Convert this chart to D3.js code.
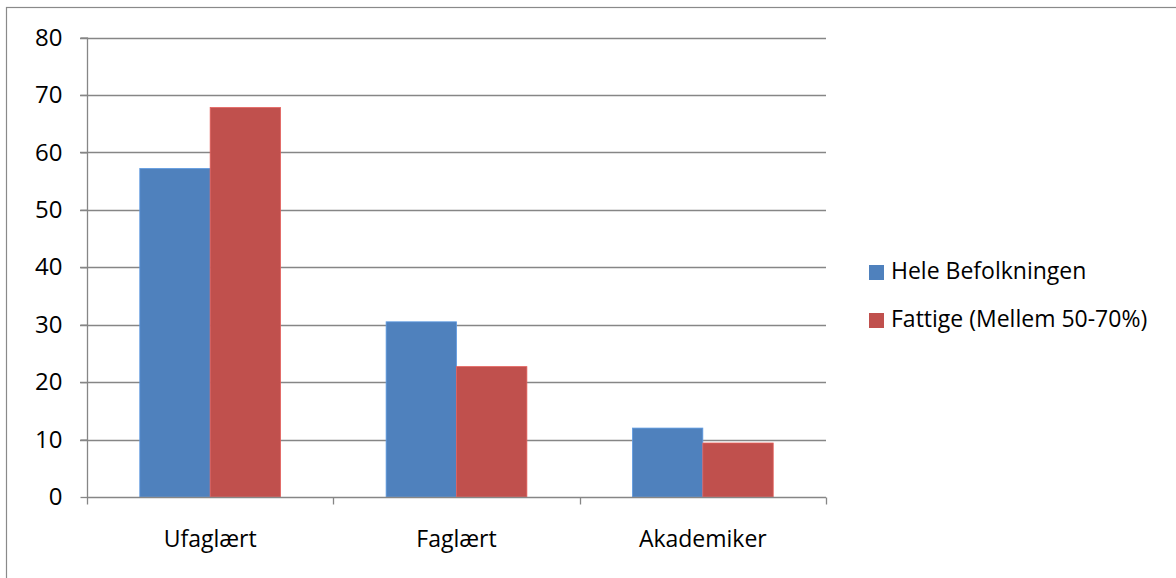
<!DOCTYPE html>
<html>
<head>
<meta charset="utf-8">
<script src="https://cdn.jsdelivr.net/npm/d3@7/dist/d3.min.js"></script>
<style>
  html, body { margin: 0; padding: 0; background: #fff; overflow: hidden; }
  text { font-family: "Open Sans", "Noto Sans", sans-serif; fill: #000; }
</style>
</head>
<body>
<svg id="chart" width="1176" height="578"></svg>
<script>
const categories = ["Ufaglært", "Faglært", "Akademiker"];
const seriesNames = ["Hele Befolkningen", "Fattige (Mellem 50-70%)"];
const heleBefolkningen = [57.2, 30.5, 12.0];
const fattige = [67.8, 22.7, 9.4];
const yTicks = [0, 10, 20, 30, 40, 50, 60, 70, 80];
const colors = ["#4F81BD", "#C0504D"];

(function () {
const svg = d3.select("#chart");
const pLeft = 87, pRight = 826, pTop = 37.5, pBottom = 497;

// outer border
svg.append("rect").attr("x", 6.5).attr("y", 7.5).attr("width", 1300).attr("height", 700)
  .attr("fill", "none").attr("stroke", "#8a8a8a").attr("stroke-width", 1.2);

const x = d3.scaleBand().domain(categories).range([pLeft, pRight]).paddingInner(0).paddingOuter(0);
const y = d3.scaleLinear().domain([0, 80]).range([pBottom, pTop]);
const inner = d3.scaleBand().domain([0, 1]).range([0, x.bandwidth()]).paddingOuter(0.75).paddingInner(0);

// gridlines
svg.append("g").selectAll("line").data(yTicks.filter(d => d > 0)).join("line")
  .attr("x1", pLeft - 7).attr("x2", pRight)
  .attr("y1", d => Math.round(y(d)) + 0.5).attr("y2", d => Math.round(y(d)) + 0.5)
  .attr("stroke", "#868686").attr("stroke-width", 1.3);

// bars
const data = [heleBefolkningen, fattige];
data.forEach((vals, si) => {
  svg.append("g").selectAll("rect").data(categories).join("rect")
    .attr("x", (c) => x(c) + inner(si))
    .attr("width", inner.bandwidth())
    .attr("y", (c, i) => y(vals[i]))
    .attr("height", (c, i) => pBottom - y(vals[i]))
    .attr("fill", colors[si])
    .attr("stroke", d3.color(colors[si]).brighter(0.5))
    .attr("stroke-width", 0.8);
});

// y axis
const yAxis = d3.axisLeft(y).tickValues(yTicks).tickSize(7).tickPadding(18).tickFormat(d3.format("d"));
const gy = svg.append("g").attr("transform", `translate(${pLeft + 0.5},0)`).call(yAxis);
gy.select(".domain").attr("stroke", "#868686").attr("stroke-width", 1.3).attr("d", `M0,${pTop}V${pBottom}`);
gy.selectAll(".tick line").attr("stroke", "#868686").attr("stroke-width", 1.3);
gy.selectAll(".tick text").style("font-size", "24px").style("font-family", "'Open Sans', sans-serif").attr("fill", "#000");

// x axis
const gx = svg.append("g").attr("transform", `translate(0,${pBottom + 0.5})`);
gx.append("line").attr("x1", pLeft).attr("x2", pRight).attr("y1", 0).attr("y2", 0)
  .attr("stroke", "#868686").attr("stroke-width", 1.3);
const boundaries = categories.map(c => x(c)).concat([x(categories[categories.length - 1]) + x.bandwidth()]);
gx.selectAll("line.tk").data(boundaries).join("line").attr("class", "tk")
  .attr("x1", d => Math.round(d) + 0.5).attr("x2", d => Math.round(d) + 0.5)
  .attr("y1", 0).attr("y2", 7).attr("stroke", "#868686").attr("stroke-width", 1.3);
gx.selectAll("text").data(categories).join("text")
  .attr("x", c => x(c) + x.bandwidth() / 2).attr("y", 49)
  .attr("text-anchor", "middle").style("font-size", "23px").text(c => c);

// legend
const lg = svg.append("g");
seriesNames.forEach((name, i) => {
  const yy = 265 + i * 48;
  lg.append("rect").attr("x", 869).attr("y", yy).attr("width", 15).attr("height", 15).attr("fill", colors[i]);
  lg.append("text").attr("x", 891).attr("y", yy + 14).style("font-size", "23px").text(name);
});
})();
</script>
</body>
</html>
